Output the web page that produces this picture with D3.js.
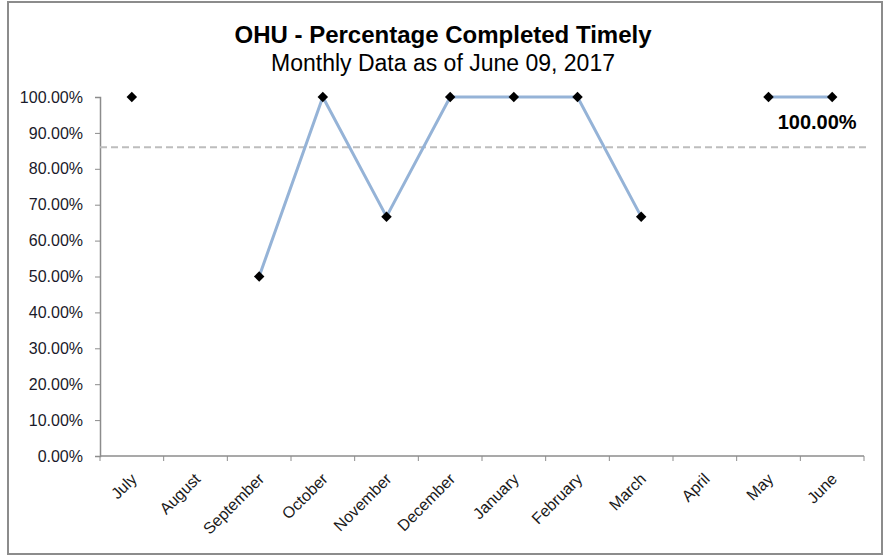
<!DOCTYPE html>
<html>
<head>
<meta charset="utf-8">
<script src="https://cdn.jsdelivr.net/npm/d3@7"></script>
<style>
  body { margin: 0; background: #fff; }
  svg { display: block; font-family: Arial, "Liberation Sans", sans-serif; }
</style>
</head>
<body>
<div id="chart"></div>
<script>
// chart data
const months = ['July', 'August', 'September', 'October', 'November', 'December',
  'January', 'February', 'March', 'April', 'May', 'June'];
const pctTimely = [100, null, 50, 100, 66.67, 100, 100, 100, 66.67, null, 100, 100];
const targetPct = 86;
const yTicks = [0, 10, 20, 30, 40, 50, 60, 70, 80, 90, 100];
const lastLabel = '100.00%';

const width = 889, height = 556;
const margin = { top: 97, right: 25, bottom: 100, left: 100 };

const svg = d3.select('#chart').append('svg')
  .attr('width', width)
  .attr('height', height);

// outer frame
svg.append('rect')
  .attr('x', 8).attr('y', 2)
  .attr('width', 874).attr('height', 552)
  .attr('fill', '#fff')
  .attr('stroke', '#8c8c8c')
  .attr('stroke-width', 2);

const x = d3.scaleBand()
  .domain(months)
  .range([margin.left, 864]);

const y = d3.scaleLinear()
  .domain([0, 100])
  .range([456, 97]);

// title
svg.append('text')
  .attr('x', 443).attr('y', 43)
  .attr('text-anchor', 'middle')
  .attr('font-size', 24).attr('font-weight', 'bold')
  .text('OHU - Percentage Completed Timely');

svg.append('text')
  .attr('x', 443).attr('y', 71)
  .attr('text-anchor', 'middle')
  .attr('font-size', 23)
  .text('Monthly Data as of June 09, 2017');

// y axis
const yAxis = svg.append('g')
  .attr('transform', `translate(${margin.left},0)`)
  .call(d3.axisLeft(y).tickValues(yTicks).tickSize(5).tickPadding(12)
    .tickFormat(d => d.toFixed(2) + '%'));
yAxis.select('.domain').attr('stroke', '#8c8c8c').attr('stroke-width', 1.5);
yAxis.selectAll('.tick line').attr('stroke', '#8c8c8c');
yAxis.selectAll('.tick text')
  .attr('font-size', 16).attr('fill', '#1a1a2a')
  .attr('font-family', 'Arial, "Liberation Sans", sans-serif');

// x axis with ticks at band edges
const xAxisG = svg.append('g').attr('transform', 'translate(0,456)');
xAxisG.append('line')
  .attr('x1', margin.left).attr('x2', 864)
  .attr('stroke', '#8c8c8c').attr('stroke-width', 1.5);
const edges = months.map(m => x(m)).concat([x.range()[1]]);
xAxisG.selectAll('.xtick')
  .data(edges)
  .enter().append('line')
  .attr('class', 'xtick')
  .attr('x1', d => d).attr('x2', d => d)
  .attr('y1', 0).attr('y2', 5)
  .attr('stroke', '#8c8c8c');
xAxisG.selectAll('.xlabel')
  .data(months)
  .enter().append('text')
  .attr('class', 'xlabel')
  .attr('text-anchor', 'end')
  .attr('font-size', 16)
  .attr('fill', '#1a1a1a')
  .attr('transform', d => `translate(${x(d) + x.bandwidth() / 2 + 6},24) rotate(-45)`)
  .text(d => d);

// target line
svg.append('line')
  .attr('x1', margin.left).attr('x2', 870)
  .attr('y1', y(targetPct)).attr('y2', y(targetPct))
  .attr('stroke', '#bdbdbd')
  .attr('stroke-width', 2)
  .attr('stroke-dasharray', '7,4');

// data line
const points = months.map((m, i) => ({ month: m, value: pctTimely[i] }));
const line = d3.line()
  .defined(d => d.value !== null)
  .x(d => x(d.month) + x.bandwidth() / 2)
  .y(d => y(d.value));

svg.append('path')
  .datum(points)
  .attr('fill', 'none')
  .attr('stroke', '#95b3d7')
  .attr('stroke-width', 3)
  .attr('d', line);

svg.selectAll('.marker')
  .data(points.filter(d => d.value !== null))
  .enter().append('path')
  .attr('class', 'marker')
  .attr('d', d3.symbol().type(d3.symbolDiamond2).size(70))
  .attr('transform', d => `translate(${x(d.month) + x.bandwidth() / 2},${y(d.value)})`)
  .attr('fill', '#000');

// last value label
const last = points[points.length - 1];
svg.append('text')
  .attr('x', x(last.month) + x.bandwidth() / 2 - 15)
  .attr('y', y(last.value) + 32)
  .attr('text-anchor', 'middle')
  .attr('font-size', 20)
  .attr('font-weight', 'bold')
  .text(lastLabel);
</script>
</body>
</html>
